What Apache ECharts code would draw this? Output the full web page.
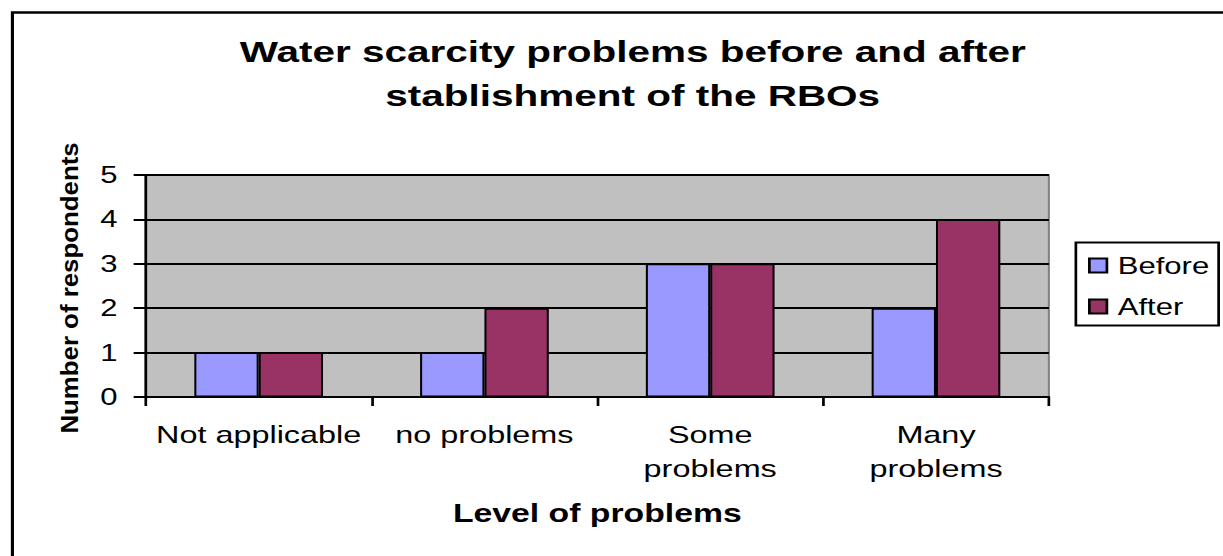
<!DOCTYPE html>
<html>
<head>
<meta charset="utf-8">
<script src="https://cdn.jsdelivr.net/npm/echarts@6/dist/echarts.min.js"></script>
<style>
  html, body { margin: 0; padding: 0; background: #fff; overflow: hidden; }
  /* The chart is laid out on a narrower canvas and widened horizontally,
     giving the broad, stretched look of the original office chart. */
  #chart {
    width: 906px;
    height: 556px;
    transform: scaleX(1.34989);
    transform-origin: 0 0;
  }
</style>
</head>
<body>
<div id="chart"></div>
<script>
// Survey answers: respondents per level of water scarcity problems
const categories = ['Not applicable', 'no problems', 'Some\nproblems', 'Many\nproblems'];
const beforeValues = [1, 1, 3, 2];
const afterValues = [1, 2, 3, 4];
const yTicks = [0, 1, 2, 3, 4, 5];

const FONT = '"Liberation Sans", Arial, sans-serif';

const chart = echarts.init(document.getElementById('chart'), null, { renderer: 'svg' });

chart.setOption({
  backgroundColor: '#ffffff',
  animation: false,
  textStyle: { fontFamily: FONT, color: '#000' },
  graphic: [
    {
      // outer chart frame
      type: 'rect',
      left: 6.7, top: 10,
      shape: { width: 960, height: 570 },
      style: { fill: 'none', stroke: '#000', lineWidth: 2.3 },
      silent: true,
      z: 100
    },
    {
      // vertical axis title
      type: 'text',
      x: 51.9,
      y: 288,
      rotation: Math.PI / 2,
      scaleX: 1.23,
      scaleY: 0.82,
      style: {
        text: 'Number of respondents',
        font: 'bold 21px "Liberation Sans", Arial, sans-serif',
        fill: '#000',
        textAlign: 'center',
        textVerticalAlign: 'middle'
      },
      silent: true
    }
  ],
  title: {
    text: 'Water scarcity problems before and after\nstablishment of the RBOs',
    left: 463.7,
    textAlign: 'center',
    top: 25,
    textStyle: {
      fontFamily: FONT,
      fontSize: 30,
      fontWeight: 'bold',
      color: '#000',
      lineHeight: 44
    }
  },
  legend: {
    orient: 'vertical',
    left: 797,
    top: 242.5,
    padding: [10, 7, 6, 9],
    itemGap: 15,
    itemWidth: 13,
    itemHeight: 14,
    icon: 'rect',
    borderColor: '#000',
    borderWidth: 2,
    backgroundColor: '#fff',
    textStyle: { fontFamily: FONT, fontSize: 23, color: '#000', lineHeight: 26, padding: [0, 0, 0, 3] },
    data: ['Before', 'After']
  },
  grid: {
    left: 108,
    right: 129,
    top: 175,
    bottom: 159,
    show: true,
    backgroundColor: '#c0c0c0',
    borderColor: '#808080',
    borderWidth: 1.5
  },
  xAxis: {
    type: 'category',
    data: categories,
    name: 'Level of problems',
    nameLocation: 'middle',
    nameGap: 104,
    nameTextStyle: { fontFamily: FONT, fontSize: 25, fontWeight: 'bold', color: '#000' },
    axisLine: { lineStyle: { color: '#000', width: 2 } },
    axisTick: { show: true, length: 9, lineStyle: { color: '#000', width: 2 } },
    axisLabel: {
      fontFamily: FONT,
      fontSize: 24,
      color: '#000',
      margin: 21,
      lineHeight: 34,
      interval: 0
    }
  },
  yAxis: {
    type: 'value',
    min: 0,
    max: 5,
    interval: 1,
    axisLine: { show: true, lineStyle: { color: '#000', width: 2 } },
    axisTick: { show: true, length: 9, lineStyle: { color: '#000', width: 2 } },
    axisLabel: {
      fontFamily: FONT,
      fontSize: 23,
      color: '#000',
      margin: 21,
      formatter: v => (yTicks.includes(v) ? String(v) : '')
    },
    splitLine: { show: true, lineStyle: { color: '#000', width: 2 } }
  },
  series: [
    {
      name: 'Before',
      type: 'bar',
      data: beforeValues,
      barGap: '0%',
      barCategoryGap: '43%',
      itemStyle: { color: '#9999ff', borderColor: '#000', borderWidth: 1.5 }
    },
    {
      name: 'After',
      type: 'bar',
      data: afterValues,
      itemStyle: { color: '#993366', borderColor: '#000', borderWidth: 1.5 }
    }
  ]
});
</script>
</body>
</html>
